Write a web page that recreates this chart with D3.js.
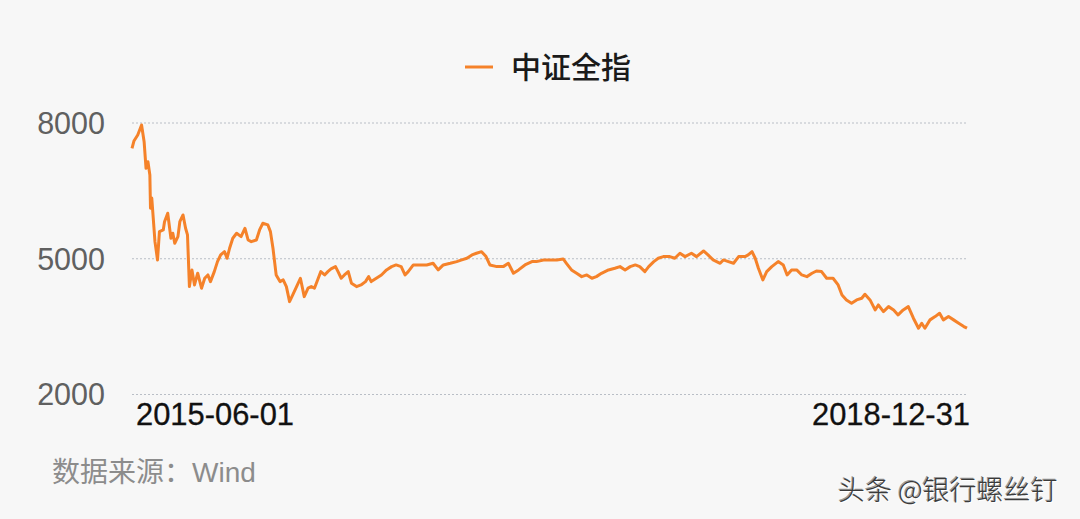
<!DOCTYPE html>
<html>
<head>
<meta charset="utf-8">
<script src="https://cdn.jsdelivr.net/npm/d3@7"></script>
<style>
  html, body { margin: 0; padding: 0; background: #f7f7f7; }
  svg { display: block; }
</style>
</head>
<body>
<svg id="chart" width="1080" height="519"></svg>
<script>
// ---- data ----
const seriesName = "中证全指";
const dates = [
"2015-06-01","2015-06-04","2015-06-10","2015-06-16","2015-06-20","2015-06-23","2015-06-26","2015-06-29","2015-06-30","2015-07-02",
"2015-07-07","2015-07-11","2015-07-14","2015-07-20","2015-07-22","2015-07-27","2015-08-01","2015-08-04","2015-08-07","2015-08-12",
"2015-08-15","2015-08-20","2015-08-24","2015-08-27","2015-08-30","2015-09-03","2015-09-07","2015-09-12","2015-09-18","2015-09-23",
"2015-09-28","2015-10-02","2015-10-08","2015-10-13","2015-10-18","2015-10-24","2015-10-28","2015-11-01","2015-11-06","2015-11-12",
"2015-11-19","2015-11-25","2015-11-30","2015-12-05","2015-12-13","2015-12-18","2015-12-23","2015-12-31","2016-01-04","2016-01-08",
"2016-01-13","2016-01-19","2016-01-24","2016-01-29","2016-02-03","2016-02-08","2016-02-14","2016-02-20","2016-02-26","2016-03-03",
"2016-03-08","2016-03-13","2016-03-19","2016-03-23","2016-03-29","2016-04-03","2016-04-08","2016-04-15","2016-04-19","2016-04-24",
"2016-04-29","2016-05-05","2016-05-10","2016-05-18","2016-05-25","2016-06-01","2016-06-06","2016-06-10","2016-06-18","2016-06-26",
"2016-07-04","2016-07-12","2016-07-19","2016-07-27","2016-08-02","2016-08-07","2016-08-15","2016-08-26","2016-09-05","2016-09-15",
"2016-09-23","2016-10-01","2016-10-12","2016-10-22","2016-10-30","2016-11-07","2016-11-15","2016-11-22","2016-11-30","2016-12-07",
"2016-12-13","2016-12-24","2017-01-03","2017-01-11","2017-01-19","2017-01-27","2017-02-06","2017-02-17","2017-02-24","2017-03-07",
"2017-03-17","2017-03-28","2017-04-07","2017-04-12","2017-04-20","2017-04-28","2017-05-06","2017-05-14","2017-05-22","2017-05-29",
"2017-06-06","2017-06-17","2017-06-27","2017-07-05","2017-07-13","2017-07-21","2017-07-29","2017-08-05","2017-08-13","2017-08-19",
"2017-08-27","2017-09-03","2017-09-11","2017-09-21","2017-09-29","2017-10-07","2017-10-15","2017-10-25","2017-11-02","2017-11-13",
"2017-11-20","2017-11-28","2017-12-09","2017-12-14","2017-12-22","2017-12-30","2018-01-07","2018-01-17","2018-01-22","2018-01-28",
"2018-02-02","2018-02-07","2018-02-14","2018-02-20","2018-02-28","2018-03-10","2018-03-18","2018-03-24","2018-03-31","2018-04-08",
"2018-04-16","2018-04-24","2018-05-02","2018-05-09","2018-05-17","2018-05-25","2018-06-04","2018-06-12","2018-06-18","2018-06-25",
"2018-07-03","2018-07-11","2018-07-19","2018-07-24","2018-08-01","2018-08-09","2018-08-14","2018-08-22","2018-08-30","2018-09-07",
"2018-09-14","2018-09-22","2018-09-30","2018-10-08","2018-10-16","2018-10-21","2018-10-26","2018-11-03","2018-11-11","2018-11-18",
"2018-11-24","2018-12-02","2018-12-10","2018-12-18","2018-12-26","2018-12-31"
];
const values = [
7430,7590,7724,7945,7576,6988,7134,6840,6104,6330,
5367,4963,5588,5625,5808,5994,5442,5553,5332,5478,
5808,5957,5663,5515,4373,4742,4410,4669,4338,4558,
4631,4484,4705,4926,5073,5146,5000,5221,5442,5553,
5478,5663,5404,5367,5404,5625,5773,5736,5588,5221,
4631,4484,4521,4373,4041,4189,4373,4558,4152,4338,
4373,4338,4558,4705,4631,4705,4764,4815,4705,4558,
4631,4705,4448,4373,4410,4484,4594,4484,4558,4631,
4742,4815,4852,4815,4631,4705,4852,4852,4852,4889,
4742,4852,4889,4926,4963,5000,5073,5110,5146,5036,
4852,4815,4815,4889,4668,4742,4852,4926,4926,4963,
4963,4963,4985,4889,4742,4668,4594,4631,4558,4594,
4668,4742,4778,4815,4742,4815,4852,4815,4705,4815,
4926,5000,5036,5036,5000,5110,5036,5110,5036,5161,
5073,4963,4889,4963,4926,4889,5036,5036,5073,5146,
5000,4778,4521,4705,4815,4926,4852,4631,4742,4742,
4631,4594,4668,4719,4705,4558,4558,4410,4189,4079,
4005,4079,4116,4204,4079,3858,3968,3820,3931,3858,
3748,3858,3931,3675,3454,3564,3454,3638,3711,3785,
3638,3711,3638,3564,3490,3454
];
const yTicks = [2000, 5000, 8000];
const xTickLabels = ["2015-06-01", "2018-12-31"];
const sourceText = "数据来源：Wind";
const watermark = "头条 @银行螺丝钉";

// ---- chart ----
const parse = d3.timeParse("%Y-%m-%d");
const data = dates.map((d, i) => ({ date: parse(d), value: values[i] }));

const svg = d3.select("#chart");
const plotLeft = 132, plotRight = 967, plotTop = 122.5, plotBottom = 394;

const x = d3.scaleTime()
  .domain([parse(xTickLabels[0]), parse(xTickLabels[1])])
  .range([plotLeft, plotRight]);
const y = d3.scaleLinear().domain([2000, 8000]).range([plotBottom, plotTop]);

const LATIN = "'Liberation Sans', Arial, Helvetica, sans-serif";
const CJK = "'Liberation Sans', 'Noto Sans CJK SC', sans-serif";

// gridlines + y labels
const yAxis = d3.axisLeft(y).tickValues(yTicks).tickSize(-(plotRight - plotLeft)).tickFormat(d3.format("d")).tickPadding(27);
const gy = svg.append("g").attr("transform", `translate(${plotLeft},0)`).call(yAxis);
gy.select(".domain").remove();
gy.selectAll(".tick line")
  .attr("stroke", "#b9bec6")
  .attr("stroke-width", 1)
  .attr("stroke-dasharray", "2,2");
gy.selectAll(".tick text")
  .attr("fill", "#606060")
  .attr("font-family", LATIN)
  .attr("font-size", 30.5)
  .attr("dy", "0.36em");

// x labels
const gx = svg.append("g").attr("transform", `translate(0,${plotBottom})`);
[[0, "start", 4], [1, "end", 3]].forEach(([i, anchor, dx]) => {
  gx.append("text")
    .attr("x", x(parse(xTickLabels[i])) + dx)
    .attr("y", 31)
    .attr("text-anchor", anchor)
    .attr("font-family", LATIN).attr("font-size", 31).attr("fill", "#111")
    .attr("stroke", "#111").attr("stroke-width", 0.3)
    .attr("textLength", 158).attr("lengthAdjust", "spacingAndGlyphs")
    .text(xTickLabels[i]);
});

// line
const line = d3.line().x(d => x(d.date)).y(d => y(d.value)).curve(d3.curveLinear);
svg.append("path")
  .datum(data)
  .attr("fill", "none")
  .attr("stroke", "#f5822a")
  .attr("stroke-width", 3)
  .attr("stroke-linejoin", "round")
  .attr("d", line);

// legend
svg.append("line")
  .attr("x1", 465).attr("x2", 493).attr("y1", 67).attr("y2", 67)
  .attr("stroke", "#f5822a").attr("stroke-width", 3);
svg.append("text")
  .attr("x", 511).attr("y", 67).attr("dy", "0.36em")
  .attr("font-family", "'Noto Sans CJK SC', sans-serif")
  .attr("font-size", 30).attr("font-weight", 500).attr("fill", "#1a1a1a")
  .text(seriesName);

// source
svg.append("text")
  .attr("x", 52).attr("y", 472).attr("dy", "0.36em")
  .attr("font-family", CJK).attr("font-size", 28).attr("fill", "#8c8c8c")
  .text(sourceText);

// watermark
svg.append("text")
  .attr("x", 838).attr("y", 490).attr("dy", "0.36em")
  .attr("font-family", "'Noto Sans CJK SC', sans-serif")
  .attr("font-size", 27).attr("font-weight", 300).attr("fill", "#3a3a3a")
  .style("text-shadow", "1px 1px 0 #ffffff, -1px -1px 0 #9a9a9a")
  .text(watermark);
</script>
</body>
</html>
